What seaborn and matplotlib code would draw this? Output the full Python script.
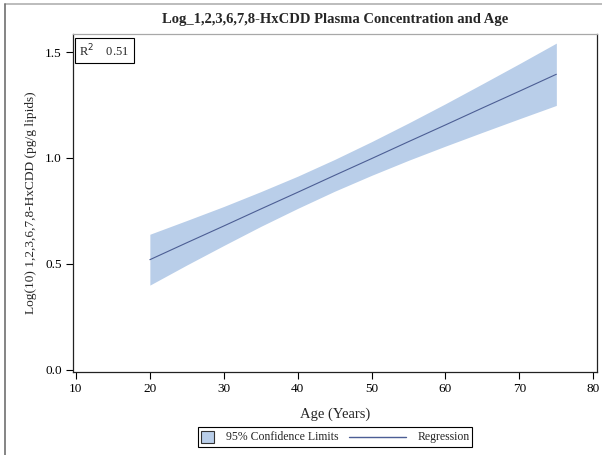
import matplotlib
matplotlib.use("Agg")
import matplotlib.pyplot as plt
from matplotlib.lines import Line2D
from matplotlib.patches import Rectangle
from matplotlib.offsetbox import AnchoredOffsetbox, DrawingArea, HPacker, TextArea
import seaborn as sns
import pandas as pd

# Fitted regression of log10 HxCDD on age, with 95% confidence limits
age = [20, 25, 30, 35, 40, 45, 50, 55, 60, 65, 70, 75]
fit = [0.520, 0.600, 0.679, 0.759, 0.838, 0.918, 0.997, 1.077, 1.156, 1.236, 1.315, 1.395]
lower = [0.400, 0.495, 0.587, 0.677, 0.762, 0.843, 0.918, 0.989, 1.056, 1.121, 1.185, 1.248]
upper = [0.640, 0.705, 0.771, 0.841, 0.914, 0.993, 1.077, 1.165, 1.256, 1.350, 1.445, 1.542]
r_squared = 0.51

x_ticks = [10, 20, 30, 40, 50, 60, 70, 80]
y_ticks = [0.0, 0.5, 1.0, 1.5]

df = pd.DataFrame({"age": age, "fit": fit, "lower": lower, "upper": upper})

sns.set_style("white")
plt.rcParams["font.family"] = ["Liberation Serif", "DejaVu Serif"]

band_color = "#b9cee9"
line_color = "#4c5e94"

fig = plt.figure(figsize=(6.02, 4.55), dpi=100)
ax = fig.add_axes([73 / 602, 1 - 372 / 455, (597 - 73) / 602, (372 - 34) / 455])

ax.fill_between(df["age"], df["lower"], df["upper"], color=band_color, linewidth=0)
sns.lineplot(data=df, x="age", y="fit", ax=ax, color=line_color, linewidth=0.8)

ax.set_xlim(9.6, 80.5)
ax.set_ylim(-0.01, 1.585)
ax.set_xticks(x_ticks)
ax.set_yticks(y_ticks)
ax.set_xticklabels([str(v) for v in x_ticks])
ax.set_yticklabels([f"{v:.1f}" for v in y_ticks])
ax.tick_params(axis="both", which="both", direction="out", length=5, width=0.8,
               labelsize=9.5, colors="black", bottom=True, left=True, pad=3)

for side in ("left", "bottom", "right"):
    ax.spines[side].set_color("#222222")
    ax.spines[side].set_linewidth(0.9)
ax.spines["top"].set_color("#a8a8a8")
ax.spines["top"].set_linewidth(0.9)

ax.set_xlabel("Age (Years)", fontsize=10.5, labelpad=9)
ax.set_ylabel("Log(10) 1,2,3,6,7,8-HxCDD (pg/g lipids)", fontsize=9.6, labelpad=6)

ax.set_title("Log_1,2,3,6,7,8-HxCDD Plasma Concentration and Age",
             fontsize=10.5, fontweight="bold", pad=8)

ax.text(0.012, 0.975, f"R$^2$    {r_squared:.2f}", transform=ax.transAxes,
        ha="left", va="top", fontsize=9,
        bbox=dict(boxstyle="square,pad=0.35", facecolor="white",
                  edgecolor="black", linewidth=0.8))

# Legend: square swatch for the band, longer stroke for the fitted line
swatch = DrawingArea(10, 10, 0, 0)
swatch.add_artist(Rectangle((0.5, 0.5), 9, 9, facecolor=band_color,
                            edgecolor="#333333", linewidth=0.8))
stroke = DrawingArea(41, 10, 0, 0)
stroke.add_artist(Line2D([0, 41], [5, 5], color=line_color, linewidth=1.0))
text_props = dict(fontsize=8.5, fontfamily=["Liberation Serif", "DejaVu Serif"])
row = HPacker(children=[swatch,
                        TextArea("95% Confidence Limits", textprops=text_props),
                        stroke,
                        TextArea("Regression", textprops=text_props)],
              align="center", pad=0, sep=8)
legend_box = AnchoredOffsetbox(loc="center", child=row, pad=0.2, borderpad=0,
                               frameon=True, bbox_to_anchor=(335 / 602, 1 - 437 / 455),
                               bbox_transform=fig.transFigure)
legend_box.patch.set_edgecolor("black")
legend_box.patch.set_linewidth(0.8)
legend_box.patch.set_boxstyle("square", pad=0)
fig.add_artist(legend_box)

# Outer page frame along the top and left edges
fig.add_artist(Line2D([5 / 602, 1], [1 - 4 / 455, 1 - 4 / 455], transform=fig.transFigure,
                      color="#b0b0b0", linewidth=1.2))
fig.add_artist(Line2D([5 / 602, 5 / 602], [0, 1 - 4 / 455], transform=fig.transFigure,
                      color="#707070", linewidth=1.2))

fig.savefig("out.png", dpi=100)
